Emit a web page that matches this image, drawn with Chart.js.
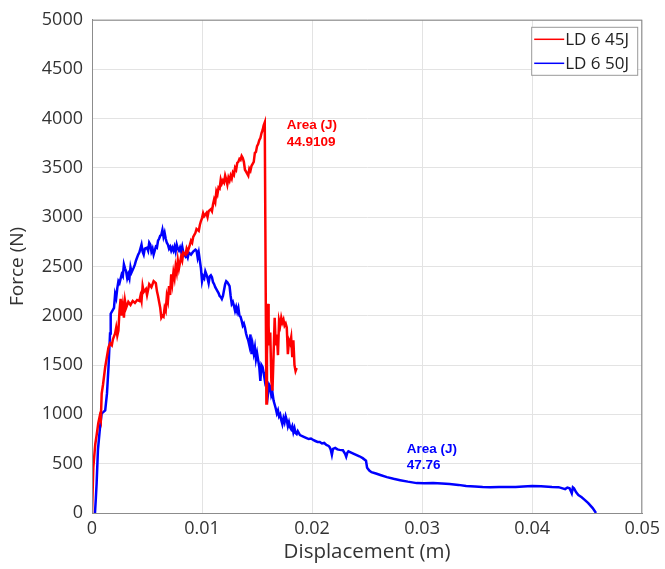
<!DOCTYPE html>
<html>
<head>
<meta charset="utf-8">
<script src="https://cdn.jsdelivr.net/npm/chart.js@4/dist/chart.umd.min.js"></script>
<style>
  html, body { margin: 0; padding: 0; background: #fff; }
  #wrap { width: 665px; height: 569px; position: relative; }
</style>
</head>
<body>
<div id="wrap"><canvas id="c" width="665" height="569"></canvas></div>
<script>
// Force–displacement records of two impact tests
const seriesLabels = ['LD 6 45J', 'LD 6 50J'];
const seriesColors = ['#ff0000', '#0000ff'];

// LD 6 45J : displacement (m)
const disp45 = [
  0, 0.00012, 0.0003, 0.00042, 0.00057, 0.0007, 0.0008, 0.00088, 0.001, 0.0012,
  0.0015, 0.00164, 0.0018, 0.0019, 0.0021, 0.0022, 0.0023, 0.0024, 0.0025, 0.0026,
  0.0027, 0.0028, 0.0029, 0.0030, 0.0031, 0.0033, 0.0035, 0.0037, 0.0039, 0.0041,
  0.0043, 0.0044, 0.0045, 0.0046, 0.0047, 0.0049, 0.0050, 0.0052, 0.0054, 0.0056,
  0.0058, 0.0059, 0.0060, 0.0062, 0.0063, 0.0064, 0.0065, 0.0066, 0.0067, 0.0068,
  0.0069, 0.0070, 0.0071, 0.0072, 0.0073, 0.0074, 0.0075, 0.0076, 0.0077, 0.0078,
  0.0079, 0.0080, 0.0081, 0.0082, 0.0083, 0.0085, 0.0086, 0.0087, 0.0089, 0.0090,
  0.0091, 0.0092, 0.0094, 0.0095, 0.0097, 0.0098, 0.0099, 0.0100, 0.0101, 0.0102,
  0.0104, 0.0105, 0.0106, 0.0108, 0.0109, 0.0110, 0.0111, 0.0112, 0.0113, 0.0114,
  0.0115, 0.0116, 0.0117, 0.0118, 0.0119, 0.0120, 0.0121, 0.0122, 0.0123, 0.0124,
  0.0125, 0.0126, 0.0127, 0.0128, 0.0129, 0.0130, 0.0131, 0.0132, 0.0133, 0.0134,
  0.0135, 0.0136, 0.0137, 0.0138, 0.0139, 0.0140, 0.0141, 0.0142, 0.0143, 0.0144,
  0.0145, 0.0146, 0.0147, 0.0148, 0.0149, 0.0150, 0.0151, 0.0152, 0.0153, 0.0154,
  0.0155, 0.0156, 0.0157, 0.0158, 0.01585, 0.0159, 0.0160, 0.01605, 0.0161, 0.0162,
  0.0163, 0.0164, 0.0165, 0.0166, 0.0167, 0.0168, 0.0169, 0.0170, 0.0171, 0.0172,
  0.0173, 0.0174, 0.0175, 0.0176, 0.0177, 0.0178, 0.0179, 0.0180, 0.0181, 0.0182,
  0.0183, 0.0184, 0.0185, 0.0186
];
// LD 6 45J : force (N)
const force45 = [
  0, 465, 700, 790, 910, 980, 940, 1210, 1300, 1480,
  1680, 1720, 1700, 1760, 1820, 1880, 1800, 1850, 2050, 2170,
  2000, 2100, 1980, 2150, 2080, 2140, 2110, 2150, 2130, 2160,
  2150, 2200, 2150, 2300, 2240, 2270, 2210, 2320, 2290, 2350,
  2330, 2250, 2200, 2080, 1980, 2000, 1990, 2080, 2050, 2200,
  2150, 2300, 2210, 2420, 2330, 2440, 2380, 2500, 2440, 2560,
  2480, 2540, 2600, 2560, 2640, 2620, 2680, 2650, 2720, 2760,
  2740, 2800, 2840, 2880, 2860, 2920, 2960, 2990, 3040, 3010,
  3040, 3000, 3060, 3080, 3060, 3130, 3180, 3150, 3260, 3230,
  3300, 3290, 3380, 3340, 3370, 3350, 3420, 3380, 3330, 3400,
  3370, 3420, 3390, 3450, 3430, 3500, 3480, 3550, 3560, 3590,
  3580, 3620, 3600, 3560, 3480, 3460, 3440, 3420, 3490, 3470,
  3520, 3540, 3560, 3650, 3660, 3720, 3740, 3780, 3800, 3850,
  3880, 3930, 3960, 2000, 1110, 1600, 2120, 1900, 1700, 1830,
  1340, 1240, 1600, 1980, 1700, 1810, 1600, 1950, 1900, 1980,
  1930, 1960, 1900, 1920, 1880, 1610, 1750, 1720, 1780, 1580,
  1750, 1500, 1440, 1470
];

// LD 6 50J : displacement (m)
const disp50 = [
  0.00027, 0.00035, 0.00042, 0.00054, 0.00073, 0.00088, 0.0010, 0.0012, 0.00136, 0.0015,
  0.00164, 0.0017, 0.0019, 0.0020, 0.0021, 0.0022, 0.0023, 0.0024, 0.0025, 0.0027,
  0.0028, 0.0029, 0.0030, 0.0031, 0.0032, 0.0033, 0.0034, 0.0035, 0.0036, 0.0038,
  0.0039, 0.0040, 0.0041, 0.0042, 0.0043, 0.0044, 0.0045, 0.0046, 0.0047, 0.0048,
  0.0050, 0.0051, 0.0052, 0.0053, 0.0054, 0.0055, 0.0056, 0.0057, 0.0058, 0.0059,
  0.0060, 0.0061, 0.0062, 0.0063, 0.0064, 0.0065, 0.0066, 0.0067, 0.0068, 0.0069,
  0.0070, 0.0071, 0.0072, 0.0073, 0.0074, 0.0075, 0.0076, 0.0077, 0.0078, 0.0079,
  0.0080, 0.0081, 0.0082, 0.0083, 0.0084, 0.0085, 0.0086, 0.0087, 0.0088, 0.0090,
  0.0092, 0.0094, 0.0095, 0.0096, 0.0097, 0.0098, 0.0099, 0.0100, 0.0101, 0.0102,
  0.0103, 0.0104, 0.0105, 0.0106, 0.0107, 0.0108, 0.0109, 0.0110, 0.0111, 0.0112,
  0.0113, 0.0114, 0.0115, 0.0116, 0.0117, 0.0118, 0.0119, 0.0120, 0.0121, 0.0122,
  0.0123, 0.0124, 0.0125, 0.0126, 0.0127, 0.0128, 0.0129, 0.0130, 0.0131, 0.0132,
  0.0133, 0.0134, 0.0135, 0.0136, 0.0137, 0.0138, 0.0139, 0.0140, 0.0141, 0.0142,
  0.0143, 0.0144, 0.0145, 0.0146, 0.0147, 0.0148, 0.0149, 0.0150, 0.0151, 0.0152,
  0.0153, 0.0154, 0.0155, 0.0156, 0.0157, 0.0158, 0.0159, 0.0160, 0.0161, 0.0162,
  0.0163, 0.0164, 0.0165, 0.0166, 0.0167, 0.0168, 0.0169, 0.0170, 0.0171, 0.0172,
  0.0173, 0.0174, 0.0175, 0.0176, 0.0177, 0.0178, 0.0179, 0.0180, 0.0181, 0.0182,
  0.0183, 0.0184, 0.0185, 0.0186, 0.0187, 0.0189, 0.0191, 0.0193, 0.0195, 0.0197,
  0.0199, 0.0201, 0.0203, 0.0205, 0.0207, 0.0209, 0.0211, 0.0213, 0.0215, 0.0216,
  0.0217, 0.0218, 0.0219, 0.0221, 0.0223, 0.0225, 0.0228, 0.0230, 0.0231, 0.0232,
  0.0233, 0.0236, 0.0240, 0.0243, 0.0246, 0.0249, 0.0250, 0.0252, 0.0254, 0.0258,
  0.0262, 0.0268, 0.0274, 0.0280, 0.0287, 0.0295, 0.0302, 0.0310, 0.0318, 0.0325,
  0.0333, 0.0340, 0.0348, 0.0355, 0.0362, 0.0370, 0.0378, 0.0385, 0.0392, 0.0400,
  0.0408, 0.0418, 0.0424, 0.0430, 0.0432, 0.0434, 0.0436, 0.0437, 0.0438, 0.0440,
  0.0442, 0.0445, 0.0448, 0.0451, 0.0455, 0.0458
];
// LD 6 50J : force (N)
const force50 = [
  0, 150, 300, 640, 870, 1010, 1020, 1040, 1210, 1480,
  1820, 2020, 2060, 2080, 2220, 2180, 2280, 2350, 2330, 2420,
  2400, 2520, 2480, 2450, 2380, 2420, 2380, 2490, 2440, 2490,
  2520, 2560, 2590, 2620, 2640, 2680, 2720, 2650, 2620, 2680,
  2690, 2660, 2740, 2720, 2650, 2680, 2620, 2660, 2700, 2690,
  2760, 2780, 2810, 2820, 2870, 2800, 2840, 2780, 2740, 2720,
  2680, 2700, 2660, 2690, 2660, 2700, 2650, 2720, 2680, 2660,
  2690, 2650, 2700, 2640, 2620, 2600, 2620, 2590, 2640, 2620,
  2650, 2670, 2660, 2590, 2640, 2560, 2480, 2350, 2400, 2380,
  2450, 2420, 2380, 2330, 2400, 2410, 2390, 2340, 2320, 2290,
  2270, 2250, 2230, 2200, 2190, 2170, 2200, 2260, 2320, 2350,
  2340, 2320, 2300, 2200, 2120, 2140, 2100, 2050, 2090, 2040,
  2080, 2000, 1990, 1950, 1900, 1920, 1880, 1820, 1780, 1750,
  1700, 1810, 1610, 1700, 1620, 1680, 1560, 1620, 1550, 1480,
  1340, 1500, 1480, 1420, 1350, 1410, 1300, 1210, 1300, 1280,
  1190, 1220, 1140, 1100, 1060, 1010, 1040, 980, 1000, 940,
  900, 960, 920, 980, 940, 880, 920, 870, 850, 880,
  820, 860, 810, 800, 830, 790, 780, 770, 760, 750,
  755, 740, 730, 720, 720, 705, 710, 690, 680, 667,
  640, 590, 650, 660, 645, 640, 636, 600, 570, 610,
  625, 610, 590, 575, 556, 530, 460, 430, 414, 400,
  385, 364, 347, 333, 318, 303, 302, 303, 298, 293,
  285, 273, 268, 263, 262, 263, 264, 263, 268, 273,
  270, 263, 262, 242, 258, 250, 200, 260, 250, 210,
  182, 160, 131, 100, 50, 0
];

// Axis ticks
const xTicks = [0, 0.01, 0.02, 0.03, 0.04, 0.05];
const xTickLabels = ['0', '0.01', '0.02', '0.03', '0.04', '0.05'];
const yTicks = [0, 500, 1000, 1500, 2000, 2500, 3000, 3500, 4000, 4500, 5000];

// Energy notes: [x, y] anchor, lines of text
const noteAnchors = [[0.0177, 3930], [0.0286, 650]];
const noteLines = [['Area (J)', '44.9109'], ['Area (J)', '47.76']];

const toPoints = (xs, ys) => xs.map((x, i) => ({ x: x, y: ys[i] }));

const frameAndExtras = {
  id: 'frameAndExtras',
  afterDatasetsDraw(chart) {
    const { ctx, chartArea: a, scales } = chart;
    ctx.save();
    // plot box
    ctx.strokeStyle = '#8c8c8c';
    ctx.lineWidth = 1;
    ctx.strokeRect(a.left + 0.5, a.top + 0.5, a.right - a.left - 1, a.bottom - a.top);

    // energy notes
    ctx.font = 'bold 13.5px "Liberation Sans", Arial, sans-serif';
    ctx.textAlign = 'left';
    ctx.textBaseline = 'middle';
    noteAnchors.forEach((p, i) => {
      const px = scales.x.getPixelForValue(p[0]);
      const py = scales.y.getPixelForValue(p[1]);
      ctx.fillStyle = seriesColors[i];
      noteLines[i].forEach((t, j) => ctx.fillText(t, px, py + j * 16.5));
    });

    // legend box
    const lx = a.right - 111, ly = a.top + 7, lw = 106, lh = 48;
    ctx.fillStyle = '#fff';
    ctx.fillRect(lx, ly, lw, lh);
    ctx.strokeStyle = '#999';
    ctx.strokeRect(lx + 0.5, ly + 0.5, lw, lh);
    ctx.font = '17px "Open Sans", sans-serif';
    ctx.fillStyle = '#222';
    seriesLabels.forEach((lab, i) => {
      const yy = ly + 12.5 + i * 24;
      ctx.strokeStyle = seriesColors[i];
      ctx.lineWidth = 1.5;
      ctx.beginPath();
      ctx.moveTo(lx + 3, yy);
      ctx.lineTo(lx + 33, yy);
      ctx.stroke();
      ctx.fillText(lab, lx + 34, yy + 1);
    });
    ctx.restore();
  }
};

new Chart(document.getElementById('c'), {
  type: 'scatter',
  data: {
    datasets: [
      { label: seriesLabels[0], data: toPoints(disp45, force45), borderColor: seriesColors[0] },
      { label: seriesLabels[1], data: toPoints(disp50, force50), borderColor: seriesColors[1] }
    ]
  },
  options: {
    responsive: false,
    animation: false,
    showLine: true,
    layout: { padding: { top: 18, right: 22, left: 0, bottom: 0 } },
    elements: {
      point: { radius: 0 },
      line: { borderWidth: 2.5, tension: 0, fill: false }
    },
    plugins: { legend: { display: false }, tooltip: { enabled: false } },
    scales: {
      x: {
        type: 'linear', min: 0, max: 0.05,
        afterFit(s) { s.height = 56; },
        afterBuildTicks(s) { s.ticks = xTicks.map(v => ({ value: v })); },
        grid: { color: '#e3e3e3', drawTicks: false },
        border: { color: '#8c8c8c' },
        ticks: {
          padding: 5, color: '#333',
          font: { family: '"Open Sans", sans-serif', size: 18 },
          callback: (v, i) => xTickLabels[i]
        },
        title: {
          display: true, text: 'Displacement (m)', color: '#333',
          font: { family: '"Open Sans", sans-serif', size: 20.5 },
          padding: { top: 0, bottom: 5 }
        }
      },
      y: {
        type: 'linear', min: 0, max: 5000,
        afterFit(s) { s.width = 92; },
        afterBuildTicks(s) { s.ticks = yTicks.map(v => ({ value: v })); },
        grid: { color: '#e3e3e3', drawTicks: false },
        border: { color: '#8c8c8c' },
        ticks: {
          padding: 9, color: '#333',
          font: { family: '"Open Sans", sans-serif', size: 18 },
          callback: v => String(v)
        },
        title: {
          display: true, text: 'Force (N)', color: '#333',
          font: { family: '"Open Sans", sans-serif', size: 19 },
          padding: { top: 6, bottom: 0 }
        }
      }
    }
  },
  plugins: [frameAndExtras]
});
</script>
</body>
</html>
